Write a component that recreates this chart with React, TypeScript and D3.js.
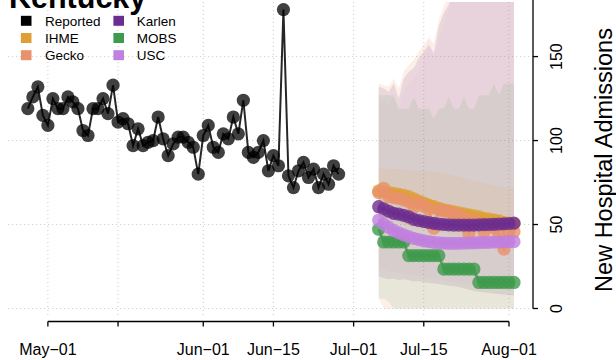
import React from "react";
import * as d3 from "d3";

// ---------- data ----------
const title = "Kentucky";
const yTitle = "New Hospital Admissions";

const reportedStart = "2020-04-27";
const reported = [
  119, 126, 132, 115, 109, 125, 119, 119, 126, 123, 119, 106, 103, 119, 119, 125,
  116, 133, 111, 113, 110, 97, 107, 97, 99, 100, 114, 101, 91, 98, 102, 102, 99,
  96, 80, 103, 109, 96, 93, 104, 101, 114, 104, 124, 93, 90, 93, 100, 82, 91, 85,
  178, 79, 72, 82, 87, 78, 83, 72, 80, 74, 85, 80,
];

const forecastStart = "2020-07-06";
const ihme = [70, 69.5, 69, 68.5, 68, 67.3, 66.6, 65.3, 64, 62.8, 61.6, 60.6, 59.7, 58.8, 58.1, 57.5, 57, 56.3, 55.7, 55.1, 54.6, 53.7, 53.2, 52.7, 52.2, 51.1, 50.8, 50.5];
const gecko = [69, 71.6, 66.6, 66, 65.6, 64.5, 63.6, 60.3, 63, 61, 59, 47.8, 58.7, 58, 57.7, 56.5, 55.7, 54, 44.8, 52.5, 50, 45.7, 49, 48, 43.8, 35.4, 46, 45.7];
const karlen = [60.6, 59.3, 57.9, 56.6, 56.2, 55.4, 54.5, 53.1, 52.4, 51.8, 51.2, 50.7, 50.3, 50.0, 49.8, 49.7, 49.7, 49.6, 49.6, 49.7, 49.8, 49.9, 50.0, 50.1, 50.3, 50.4, 50.6, 50.8];
const mobs = [47.2, 39.6, 39.6, 39.6, 39.6, 39.6, 31.5, 31.5, 31.5, 31.5, 31.5, 31.5, 31.5, 23.5, 23.5, 23.5, 23.5, 23.5, 23.5, 23.5, 15.5, 15.5, 15.5, 15.5, 15.5, 15.5, 15.5, 15.5];
const usc = [52.7, 50.3, 48.3, 46.4, 45, 43.8, 42.8, 41.8, 41, 40.3, 39.8, 39.4, 39.1, 38.9, 38.8, 38.8, 38.8, 38.9, 39, 39.1, 39.2, 39.3, 39.4, 39.5, 39.6, 39.7, 39.8, 39.8];

const ihmeLo = [55, 54, 53, 52, 51, 50, 49, 48, 47.5, 47, 46.5, 46, 45.5, 45, 44.5, 44, 43.5, 43, 42.5, 42, 41.5, 41, 40.5, 40, 39.5, 39, 38.5, 38];
const ihmeHi = [83.5, 83.3, 83.1, 83, 82.9, 82.7, 82.5, 82.2, 82, 81.8, 81.6, 81.4, 81, 80.5, 79.8, 79, 78.3, 77.5, 76.8, 76, 75.3, 74.6, 73.9, 73.2, 72.5, 72.2, 71.9, 71.6];
const geckoLo = [6, 0, 0, 0, 0, 0, 0, 0, 0, 0, 0, 0, 0, 0, 0, 0, 0, 0, 0, 0, 0, 0, 0, 0, 0, 0, 0, 0];
const geckoHi = [134, 133, 132, 137, 131, 141, 145, 148, 153, 157, 161, 158, 172, 180, 187, 196, 206, 216, 226, 236, 246, 256, 264, 272, 282, 292, 302, 312];
const karlenLo = [19, 18.2, 17.4, 17.8, 17, 17.4, 16.8, 16, 16.3, 15.6, 15.2, 15, 14.6, 14.2, 13.6, 13.2, 12.8, 12, 11.2, 10.4, 10, 9.6, 9.2, 9, 8.6, 8.4, 8.1, 7.9];
const karlenHi = [132, 131, 129, 134, 125, 137, 141, 143, 149, 153, 157, 152, 168, 176, 181, 190, 200, 210, 220, 230, 240, 250, 258, 266, 275, 285, 295, 305];
const mobsLo = [6, 6, 4, 0, 0, 0, 0, 0, 0, 0, 0, 0, 0, 0, 0, 0, 0, 0, 0, 0, 0, 0, 0, 0, 0, 0, 0, 0];
const mobsHi = [127, 127, 127, 127, 119, 119, 119, 126, 119, 119, 119, 113, 119, 119, 126, 119, 119, 126, 119, 119, 127, 127, 127, 134, 127, 134, 134, 134];
const uscLo = [24, 23, 22, 22, 21, 21, 20, 20, 19, 19, 18, 18, 17, 17, 16, 16, 15, 15, 14, 14, 13, 13, 12, 12, 12, 11, 11, 11];
const uscHi = [124, 123, 121, 126, 118, 130, 134, 137, 142, 147, 164, 150, 160, 170, 178, 188, 198, 208, 218, 228, 238, 248, 256, 264, 273, 283, 293, 303];

const xTickDates = ["2020-05-01", "2020-05-15", "2020-06-01", "2020-06-15", "2020-07-01", "2020-07-15", "2020-08-01"];
const xTickLabels = ["May\u221201", "", "Jun\u221201", "Jun\u221215", "Jul\u221201", "Jul\u221215", "Aug\u221201"];
const yTicks = [0, 50, 100, 150, 200];
const yTickLabels = ["0", "50", "100", "150", "200"];
const xDomain = ["2020-04-23T02:00:00Z", "2020-08-05T19:00:00Z"];
const yDomain = [-5.66, 182.5];

const legendNames = ["Reported", "IHME", "Gecko", "Karlen", "MOBS", "USC"];
const legendColors = ["#000000", "#DF9F35", "#E9916A", "#6B2D8F", "#3E9A4C", "#C080DF"];

// ---------- layout ----------
const W = 616;
const H = 360;
const plotL = 8.2, plotR = 533, plotT = 2, plotB = 318;
const FONT = "'Liberation Sans', Arial, Helvetica, sans-serif";

const parse = (s: string) => new Date(s.length === 10 ? s + "T00:00:00Z" : s);

export default function App() {
  const x = d3.scaleUtc().domain(xDomain.map(parse)).range([plotL, plotR]);
  const y = d3.scaleLinear().domain(yDomain).range([plotB, plotT]);

  const rStart = parse(reportedStart);
  const rDates = reported.map((_, i) => d3.utcDay.offset(rStart, i));
  const fStart = parse(forecastStart);
  const fDates = ihme.map((_, i) => d3.utcDay.offset(fStart, i));

  const band = (lo: number[], hi: number[]) =>
    d3.area<number>()
      .x((_, i) => x(fDates[i]))
      .y0((_, i) => y(lo[i]))
      .y1((d) => y(d))(hi) || "";

  const fLine = (vals: number[]) =>
    d3.line<number>().x((_, i) => x(fDates[i])).y((d) => y(d))(vals) || "";
  const rLine =
    d3.line<number>().x((_, i) => x(rDates[i])).y((d) => y(d))(reported) || "";

  const bands = [
    { lo: geckoLo, hi: geckoHi, color: "#EB9164", op: 0.15 },
    { lo: karlenLo, hi: karlenHi, color: "#6B2D8F", op: 0.12 },
    { lo: mobsLo, hi: mobsHi, color: "#3C9A4A", op: 0.1 },
    { lo: uscLo, hi: uscHi, color: "#C080DD", op: 0.04 },
    { lo: ihmeLo, hi: ihmeHi, color: "#E09F32", op: 0.1 },
  ];

  const series = [
    { vals: ihme, color: legendColors[1] },
    { vals: gecko, color: legendColors[2] },
    { vals: karlen, color: legendColors[3] },
    { vals: mobs, color: legendColors[4] },
    { vals: usc, color: legendColors[5] },
  ];

  const tickDates = xTickDates.map(parse);
  const grid = "#c8c8c8";

  return (
    <svg
      width={W}
      height={H}
      style={{ position: "absolute", left: 0, top: 0, background: "#fff" }}
      fontFamily={FONT}
    >
      <defs>
        <clipPath id="plotclip">
          <rect x={plotL} y={plotT} width={plotR - plotL} height={plotB - plotT} />
        </clipPath>
      </defs>
      <rect x={0} y={0} width={W} height={H} fill="#fff" />

      {/* grid */}
      <g stroke={grid} strokeWidth={1} strokeDasharray="1 3">
        {yTicks.filter((t) => y(t) >= plotT).map((t) => (
          <line key={"gy" + t} x1={plotL} x2={plotR} y1={y(t)} y2={y(t)} />
        ))}
        {tickDates.map((d, i) => (
          <line key={"gx" + i} x1={x(d)} x2={x(d)} y1={plotT} y2={plotB} />
        ))}
      </g>

      <g clipPath="url(#plotclip)">
        {bands.map((b, i) => (
          <path key={"b" + i} d={band(b.lo, b.hi)} fill={b.color} fillOpacity={b.op} stroke="none" />
        ))}

        {/* reported */}
        {reported.map((v, i) => (
          <circle key={"r" + i} cx={x(rDates[i])} cy={y(v)} r={6.6} fill="#000" fillOpacity={0.75} />
        ))}
        <path d={rLine} fill="none" stroke="#000" strokeWidth={2} strokeOpacity={0.85} />

        {/* forecasts */}
        {series.map((s, si) => (
          <g key={"s" + si}>
            <path d={fLine(s.vals)} fill="none" stroke={s.color} strokeWidth={2.5} strokeOpacity={0.85} />
            {s.vals.map((v, i) => (
              <circle key={i} cx={x(fDates[i])} cy={y(v)} r={6.6} fill={s.color} fillOpacity={0.8} />
            ))}
          </g>
        ))}
      </g>

      {/* x axis */}
      <g stroke="#000" strokeWidth={1.3}>
        <line x1={x(tickDates[0])} x2={x(tickDates[tickDates.length - 1])} y1={321.5} y2={321.5} />
        {tickDates.map((d, i) => (
          <line key={"xt" + i} x1={x(d)} x2={x(d)} y1={321.5} y2={326.5} />
        ))}
      </g>
      {tickDates.map((d, i) =>
        xTickLabels[i] ? (
          <text key={"xl" + i} x={x(d)} y={355} fontSize={16} textAnchor="middle" fill="#000">
            {xTickLabels[i]}
          </text>
        ) : null
      )}

      {/* y axis (right) */}
      <g stroke="#000" strokeWidth={1.3}>
        <line x1={533} x2={533} y1={y(yTicks[0])} y2={y(yTicks[yTicks.length - 1])} />
        {yTicks.map((t) => (
          <line key={"yt" + t} x1={533} x2={538} y1={y(t)} y2={y(t)} />
        ))}
      </g>
      {yTicks.map((t, i) => (
        <text
          key={"yl" + t}
          transform={`translate(562,${y(t)}) rotate(-90)`}
          fontSize={16}
          textAnchor="middle"
          fill="#000"
        >
          {yTickLabels[i]}
        </text>
      ))}
      <text
        transform={`translate(612,${(plotT + plotB) / 2}) rotate(-90)`}
        fontSize={23.5}
        textAnchor="middle"
        fill="#000"
      >
        {yTitle}
      </text>

      {/* title */}
      <text x={9} y={8} fontSize={30.5} fontWeight="bold" fill="#000">
        {title}
      </text>

      {/* legend */}
      {legendNames.map((n, i) => {
        const col = Math.floor(i / 3);
        const row = i % 3;
        const sx = col === 0 ? 26.2 : 118.7;
        const tx = col === 0 ? 45 : 136.7;
        const cy = 20.8 + row * 17.2;
        return (
          <g key={"lg" + i}>
            <rect x={sx - 5.3} y={cy - 5} width={10.6} height={10} fill={legendColors[i]} />
            <text x={tx} y={cy + 5} fontSize={13.5} fill="#000">
              {n}
            </text>
          </g>
        );
      })}
    </svg>
  );
}
